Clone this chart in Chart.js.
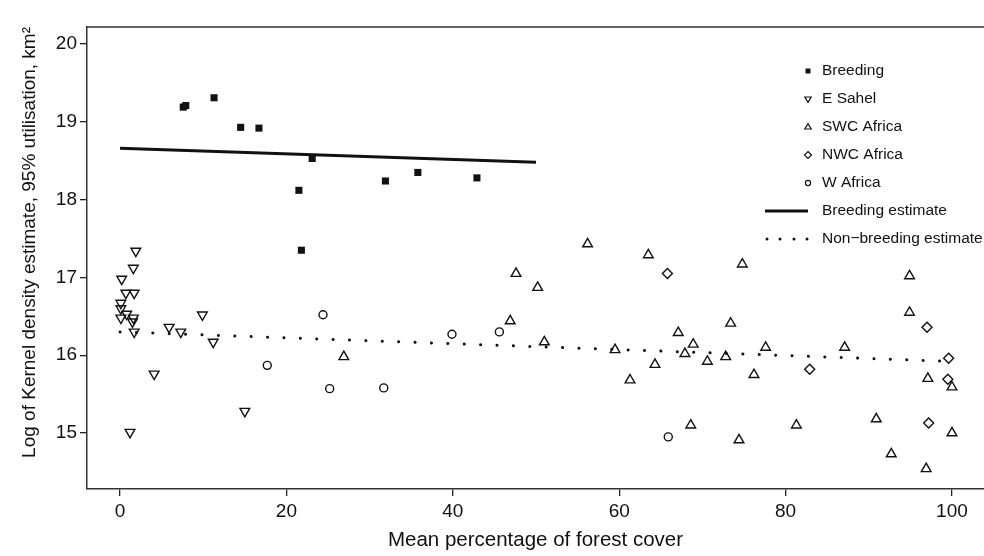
<!DOCTYPE html>
<html>
<head>
<meta charset="utf-8">
<script src="https://cdn.jsdelivr.net/npm/chart.js@4.4.0/dist/chart.umd.min.js"></script>
<style>
  html, body { margin: 0; padding: 0; background: #fff; }
  #plot { display: block; }
</style>
</head>
<body>
<canvas id="plot" width="984" height="556"></canvas>
<script>
// values
const breedingX = [7.6, 7.9, 11.3, 14.5, 16.7, 21.5, 21.8, 23.1, 31.9, 35.8, 42.9];
const breedingY = [19.19, 19.21, 19.31, 18.93, 18.92, 18.12, 17.35, 18.53, 18.24, 18.35, 18.28];

const eSahelX = [1.9, 1.6, 0.2, 0.7, 1.7, 0.1, 0.1, 0.8, 0.1, 1.6, 1.5, 1.7, 5.9, 7.3, 9.9, 11.2, 4.1, 15.0, 1.2];
const eSahelY = [17.34, 17.12, 16.98, 16.80, 16.80, 16.67, 16.60, 16.53, 16.48, 16.48, 16.43, 16.30, 16.36, 16.30, 16.52, 16.17, 15.76, 15.28, 15.01];

const swcX = [26.9, 46.9, 47.6, 50.2, 51.0, 56.2, 59.5, 61.3, 63.5, 64.3, 67.1, 67.9, 68.6, 68.9, 70.6, 72.8, 73.4, 74.4, 74.8, 76.2, 77.6, 81.3, 87.1, 90.9, 92.7, 94.9, 94.9, 96.9, 97.1, 100, 100];
const swcY = [15.98, 16.44, 17.05, 16.87, 16.17, 17.43, 16.07, 15.68, 17.29, 15.88, 16.29, 16.02, 15.10, 16.14, 15.92, 15.98, 16.41, 14.91, 17.17, 15.75, 16.10, 15.10, 16.10, 15.18, 14.73, 17.02, 16.55, 14.54, 15.70, 15.59, 15.00];

const nwcX = [65.8, 82.9, 97.0, 97.2, 99.5, 99.6];
const nwcY = [17.05, 15.82, 16.36, 15.13, 15.69, 15.96];

const wAfricaX = [17.7, 24.4, 25.2, 31.7, 39.9, 45.6, 65.9];
const wAfricaY = [15.87, 16.52, 15.57, 15.58, 16.27, 16.30, 14.95];

const breedEstX = [0, 50];
const breedEstY = [18.66, 18.48];
const nonBreedEstX = [0, 100];
const nonBreedEstY = [16.30, 15.92];

const xTicks = [0, 20, 40, 60, 80, 100];
const yTicks = [15, 16, 17, 18, 19, 20];

const legendLabels = ['Breeding', 'E Sahel', 'SWC Africa', 'NWC Africa', 'W Africa', 'Breeding estimate', 'Non\u2212breeding estimate'];

const FONT = 'Liberation Sans, Arial, Helvetica, sans-serif';

function pts(xs, ys) {
    return xs.map((x, i) => ({ x: x, y: ys[i] }));
}

function openMarker(label, data, style, radius, rotation) {
    return {
        label: label,
        data: data,
        pointStyle: style,
        pointRadius: radius,
        rotation: rotation || 0,
        backgroundColor: 'rgba(0,0,0,0)',
        borderColor: '#111',
        borderWidth: 1.4,
        showLine: false
    };
}

// small legend in the top right corner, like the R legend()
const legendPlugin = {
    id: 'rLegend',
    afterDatasetsDraw(chart) {
        const ctx = chart.ctx;
        const mx = 808, tx = 822, y0 = 71, dy = 28;
        ctx.save();
        ctx.fillStyle = '#111';
        ctx.strokeStyle = '#111';
        ctx.lineWidth = 1.2;
        legendLabels.forEach((lab, i) => {
            const y = y0 + i * dy;
            ctx.beginPath();
            if (i === 0) {
                ctx.fillRect(mx - 2.5, y - 2.5, 5, 5);
            } else if (i === 1) {
                ctx.moveTo(mx - 3.2, y - 2); ctx.lineTo(mx + 3.2, y - 2); ctx.lineTo(mx, y + 3.3); ctx.closePath(); ctx.stroke();
            } else if (i === 2) {
                ctx.moveTo(mx - 3.2, y + 2); ctx.lineTo(mx + 3.2, y + 2); ctx.lineTo(mx, y - 3.3); ctx.closePath(); ctx.stroke();
            } else if (i === 3) {
                ctx.moveTo(mx, y - 3.5); ctx.lineTo(mx + 3.5, y); ctx.lineTo(mx, y + 3.5); ctx.lineTo(mx - 3.5, y); ctx.closePath(); ctx.stroke();
            } else if (i === 4) {
                ctx.arc(mx, y, 2.6, 0, Math.PI * 2); ctx.stroke();
            } else if (i === 5) {
                ctx.lineWidth = 3;
                ctx.moveTo(765, y); ctx.lineTo(808, y); ctx.stroke();
                ctx.lineWidth = 1.2;
            } else {
                [767, 780, 794, 807].forEach(dx => {
                    ctx.beginPath(); ctx.arc(dx, y, 1.5, 0, Math.PI * 2); ctx.fill();
                });
            }
            ctx.font = '15.5px ' + FONT;
            ctx.textBaseline = 'middle';
            ctx.textAlign = 'left';
            ctx.fillText(lab, tx, y);
        });
        ctx.restore();
    }
};

// top edge of the R box (right edge falls just off the picture)
const boxPlugin = {
    id: 'rBox',
    afterDraw(chart) {
        const a = chart.chartArea;
        const ctx = chart.ctx;
        ctx.save();
        ctx.strokeStyle = '#333';
        ctx.lineWidth = 1.5;
        ctx.beginPath();
        ctx.moveTo(a.left, a.top);
        ctx.lineTo(a.right + 2, a.top);
        ctx.stroke();
        ctx.restore();
    }
};

const ctx = document.getElementById('plot').getContext('2d');
new Chart(ctx, {
    type: 'scatter',
    data: {
        datasets: [
            {
                label: 'Breeding estimate',
                data: pts(breedEstX, breedEstY),
                showLine: true,
                borderColor: '#111',
                borderWidth: 3,
                pointRadius: 0
            },
            {
                label: 'Non-breeding estimate',
                data: pts(nonBreedEstX, nonBreedEstY),
                showLine: true,
                borderColor: '#111',
                borderWidth: 3,
                borderDash: [0.1, 16.3],
                borderCapStyle: 'round',
                pointRadius: 0
            },
            {
                label: 'Breeding',
                data: pts(breedingX, breedingY),
                pointStyle: 'rect',
                pointRadius: 5,
                backgroundColor: '#111',
                borderColor: '#111',
                borderWidth: 0,
                showLine: false
            },
            openMarker('E Sahel', pts(eSahelX, eSahelY), 'triangle', 5.6, 180),
            openMarker('SWC Africa', pts(swcX, swcY), 'triangle', 5.6, 0),
            openMarker('NWC Africa', pts(nwcX, nwcY), 'rectRot', 5, 0),
            openMarker('W Africa', pts(wAfricaX, wAfricaY), 'circle', 4, 0)
        ]
    },
    options: {
        responsive: false,
        animation: false,
        devicePixelRatio: 1,
        events: [],
        layout: { autoPadding: false, padding: { top: 27, left: 0, right: 0, bottom: 0 } },
        plugins: {
            legend: { display: false },
            tooltip: { enabled: false }
        },
        scales: {
            x: {
                type: 'linear',
                min: -3.97,
                max: 103.85,
                afterBuildTicks: s => { s.ticks = xTicks.map(v => ({ value: v })); },
                afterFit: s => { s.height = 67; s.paddingLeft = 0; s.paddingRight = 0; },
                grid: { drawOnChartArea: false, drawTicks: true, tickLength: 7, color: '#222', lineWidth: 1.3 },
                border: { display: true, color: '#333', width: 1.5 },
                ticks: { font: { family: FONT, size: 19 }, color: '#111', padding: 4, maxRotation: 0 },
                title: {
                    display: true,
                    text: 'Mean percentage of forest cover',
                    font: { family: FONT, size: 20.5 },
                    color: '#111',
                    padding: { top: 0, bottom: 3 }
                }
            },
            y: {
                type: 'linear',
                min: 14.28,
                max: 20.22,
                afterBuildTicks: s => { s.ticks = yTicks.map(v => ({ value: v })); },
                afterFit: s => { s.width = 87; s.paddingTop = 0; s.paddingBottom = 0; },
                grid: { drawOnChartArea: false, drawTicks: true, tickLength: 7, color: '#222', lineWidth: 1.3 },
                border: { display: true, color: '#333', width: 1.5 },
                ticks: { font: { family: FONT, size: 19 }, color: '#111', padding: 3 },
                title: {
                    display: true,
                    align: 'end',
                    text: 'Log of Kernel density estimate, 95% utilisation, km\u00b2',
                    font: { family: FONT, size: 19 },
                    color: '#111',
                    padding: { top: 18, bottom: 0 }
                }
            }
        }
    },
    plugins: [legendPlugin, boxPlugin]
});
</script>
</body>
</html>
